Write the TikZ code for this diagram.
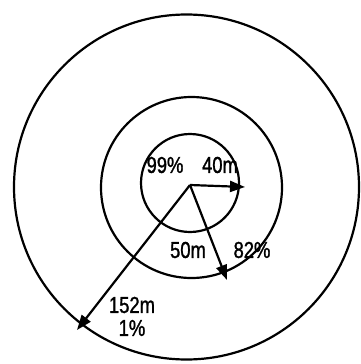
\documentclass[tikz,border=0pt]{standalone}
\usepackage{fontspec}
\setmainfont{Liberation Sans}
\newfontfamily\lblfont[FakeStretch=0.8,FakeBold=1.2]{Liberation Sans}
\usetikzlibrary{arrows.meta}
\begin{document}
\begin{tikzpicture}[x=1pt,y=-1pt,
  ring/.style={line width=2.2pt},
  arr/.style={line width=2.2pt,-{Triangle[length=15pt,width=11pt]}},
  lbl/.style={font=\lblfont\fontsize{23}{24}\selectfont,inner sep=0pt}]
\useasboundingbox (0,0) rectangle (360,364);
\draw[ring] (186.5,187) circle (172.5);
\draw[ring] (191.5,187.5) circle (90.5);
\draw[ring] (190,183) circle (49);
\coordinate (o) at (190,185);
\coordinate (a) at (245,187);
\coordinate (b) at (227,280);
\coordinate (c) at (77,330);
\draw[arr] (o) -- (a);
\draw[arr] (o) -- (b);
\draw[arr] (o) -- (c);
\node[lbl] (t1) at (165,165) {99\%};
\node[lbl] (t2) at (220,165) {40m};
\node[lbl] (t3) at (188,250) {50m};
\node[lbl] (t4) at (252,250) {82\%};
\node[lbl] (t5) at (132,305) {152m};
\node[lbl] (t6) at (132,328) {1\%};
\end{tikzpicture}
\end{document}
